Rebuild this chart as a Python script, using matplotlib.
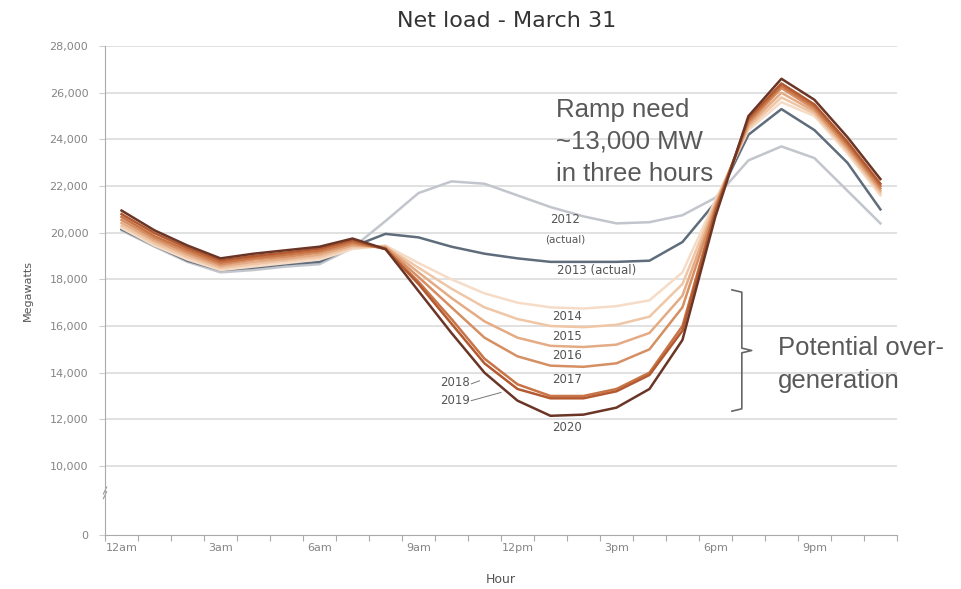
import numpy as np
import matplotlib.pyplot as plt

hours = list(range(24))
hour_labels = ['12am', '3am', '6am', '9am', '12pm', '3pm', '6pm', '9pm']

# net load (MW) by hour
load_2012 = [20100, 19400, 18750, 18300, 18400, 18550, 18650, 19350, 20500, 21700, 22200, 22100,
             21600, 21100, 20700, 20400, 20450, 20750, 21500, 23100, 23700, 23200, 21800, 20400]
load_2013 = [20150, 19450, 18800, 18400, 18500, 18650, 18750, 19400, 19950, 19800, 19400, 19100,
             18900, 18750, 18750, 18750, 18800, 19600, 21300, 24200, 25300, 24400, 23000, 21000]
load_2014 = [20200, 19450, 18850, 18400, 18550, 18700, 18850, 19300, 19450, 18700, 18000, 17400,
             17000, 16800, 16750, 16850, 17100, 18300, 21400, 24400, 25600, 25000, 23400, 21600]
load_2015 = [20300, 19550, 18950, 18480, 18650, 18800, 18950, 19380, 19400, 18500, 17600, 16800,
             16300, 16000, 15950, 16050, 16400, 17800, 21300, 24500, 25800, 25100, 23500, 21700]
load_2016 = [20420, 19650, 19050, 18560, 18750, 18880, 19050, 19450, 19400, 18300, 17200, 16200,
             15500, 15150, 15100, 15200, 15700, 17300, 21200, 24600, 26000, 25200, 23600, 21800]
load_2017 = [20550, 19750, 19150, 18640, 18850, 18970, 19150, 19520, 19350, 18100, 16800, 15500,
             14700, 14300, 14250, 14400, 15000, 16800, 21100, 24700, 26200, 25300, 23700, 21900]
load_2018 = [20680, 19850, 19250, 18720, 18920, 19060, 19230, 19600, 19300, 17900, 16300, 14600,
             13500, 13000, 13000, 13300, 14000, 16000, 21000, 24800, 26300, 25400, 23800, 22000]
load_2019 = [20800, 19980, 19350, 18810, 19000, 19150, 19320, 19680, 19300, 17800, 16100, 14400,
             13300, 12900, 12900, 13200, 13900, 15800, 20900, 24900, 26400, 25500, 23900, 22100]
load_2020 = [20950, 20100, 19450, 18900, 19100, 19250, 19400, 19750, 19300, 17500, 15700, 14000,
             12800, 12150, 12200, 12500, 13300, 15400, 20700, 25000, 26600, 25700, 24100, 22300]

series = [load_2012, load_2013, load_2014, load_2015, load_2016, load_2017, load_2018, load_2019, load_2020]
colors = ['#c2c5cc', '#5e6c7b', '#f6dcc6', '#efc6a6', '#e4ab84', '#d68f63', '#c87446', '#b35a31', '#6b3526']

fig = plt.figure(figsize=(9.61, 5.89), dpi=100)
ax = fig.add_axes([0.1093, 0.0917, 0.824, 0.830])

# grid
for v in range(10000, 28001, 2000):
    ax.axhline(v, color='#dcdcdc', lw=1.2, zorder=0)

# forecast years first (light to dark), then actuals on top
order = [0, 2, 3, 4, 5, 6, 7, 8, 1]
for i in order:
    ax.plot(hours, series[i], color=colors[i], lw=1.8, zorder=2 + i)

# broken y axis: bottom tick stands for 0
y0 = 7040
ax.set_ylim(y0, 28000)
ax.set_xlim(-0.5, 23.5)
ax.set_yticks([y0] + list(range(10000, 28001, 2000)))
ax.set_yticklabels(['0'] + ['{:,}'.format(v) for v in range(10000, 28001, 2000)])
ax.set_xticks(np.arange(-0.5, 24, 1))
ax.set_xticklabels([])
ax.set_xticks(hours[::3], minor=True)
ax.set_xticklabels(hour_labels, minor=True)
ax.tick_params(axis='x', which='major', length=4, color='#aaaaaa')
ax.tick_params(axis='x', which='minor', length=0, pad=6)
ax.tick_params(axis='y', length=4, color='#cccccc', pad=8)
for lab in ax.get_xticklabels(minor=True) + ax.get_yticklabels():
    lab.set_color('#858585')
    lab.set_fontsize(8)
for s in ['top', 'right']:
    ax.spines[s].set_visible(False)
ax.spines['left'].set_color('#aaaaaa')
ax.spines['bottom'].set_color('#aaaaaa')

# break marker on the y axis
ax.plot([-0.55, -0.45], [8600, 8900], color='#999999', lw=0.8, clip_on=False)
ax.plot([-0.55, -0.45], [8800, 9100], color='#999999', lw=0.8, clip_on=False)

ax.set_xlabel('Hour', fontsize=9, color='#555555', labelpad=14)
ax.set_ylabel('Megawatts', fontsize=8, color='#555555', labelpad=12)
fig.text(0.527, 0.964, 'Net load - March 31', ha='center', va='center', fontsize=16, color='#333333')

# year labels
lab_kw = dict(fontsize=8.5, color='#555555', ha='center', va='center')
ax.text(13.45, 20560, '2012', **lab_kw)
ax.text(13.45, 19700, '(actual)', **dict(lab_kw, fontsize=7.5))
ax.text(14.4, 18380, '2013 (actual)', **lab_kw)
ax.text(13.5, 16420, '2014', **lab_kw)
ax.text(13.5, 15540, '2015', **lab_kw)
ax.text(13.5, 14720, '2016', **lab_kw)
ax.text(13.5, 13700, '2017', **lab_kw)
ax.text(13.5, 11640, '2020', **lab_kw)
ax.text(10.1, 13560, '2018', **lab_kw)
ax.text(10.1, 12800, '2019', **lab_kw)
ax.plot([10.6, 10.85], [13520, 13650], color='#777777', lw=0.7)
ax.plot([10.6, 11.5], [12800, 13150], color='#777777', lw=0.7)

# annotations
ann_kw = dict(fontsize=18.5, color='#595959', family='Liberation Sans', ha='left', va='baseline')
for txt, yv in zip(['Ramp need', '~13,000 MW', 'in three hours'], [24960, 23590, 22210]):
    ax.text(13.17, yv, txt, **ann_kw)
for txt, yv in zip(['Potential over-', 'generation'], [14760, 13340]):
    ax.text(19.89, yv, txt, **ann_kw)

# bracket
bx = [18.5, 18.8, 18.8, 19.1, 18.8, 18.8, 18.5]
by = [17550, 17450, 15050, 14950, 14850, 12450, 12350]
ax.plot(bx, by, color='#666666', lw=1.2, zorder=20)

plt.savefig('out.png', dpi=100)
